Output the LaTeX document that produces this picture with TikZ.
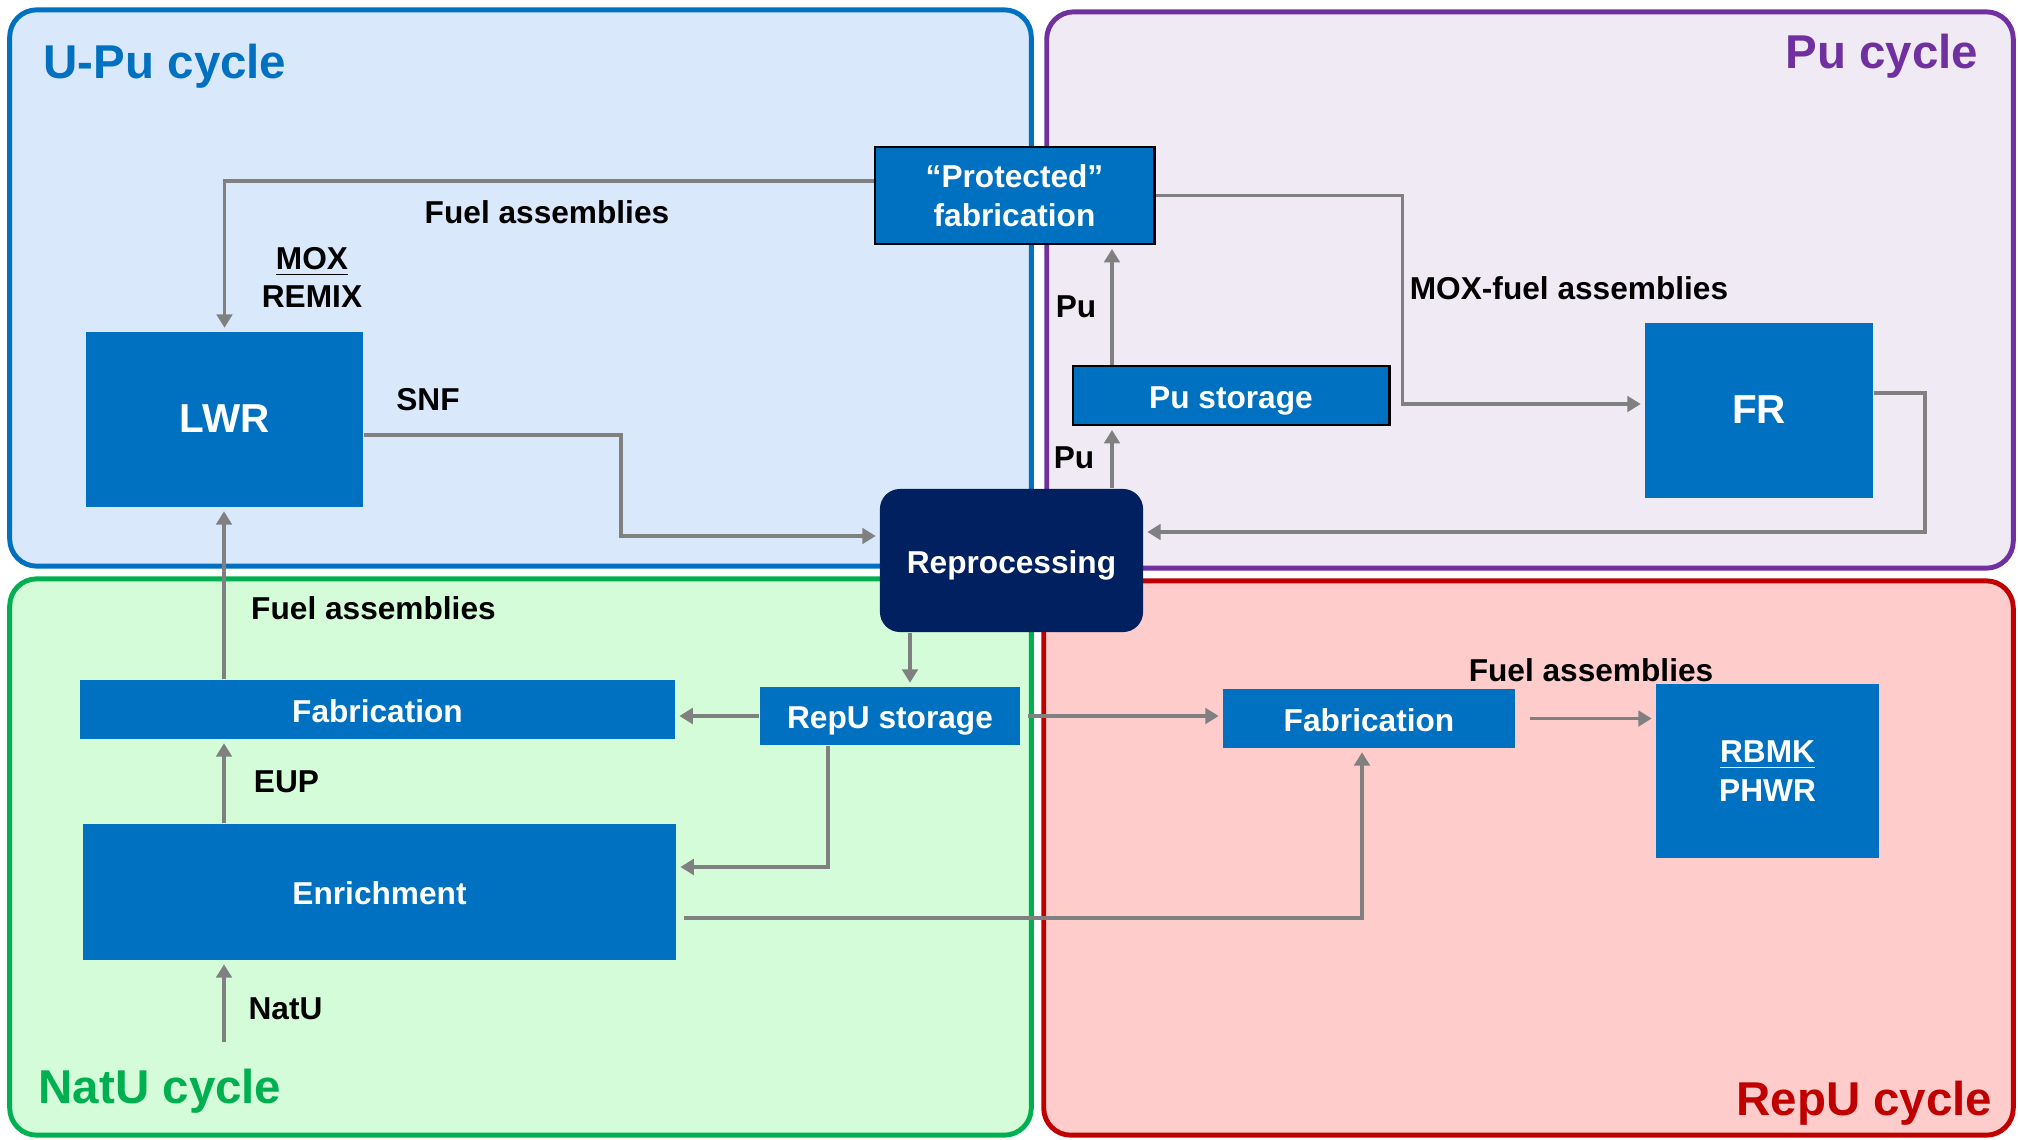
\documentclass[tikz,border=0pt]{standalone}
\usepackage{fontspec}
\setmainfont{Liberation Sans}
\usetikzlibrary{arrows.meta}
\definecolor{upufill}{RGB}{218,232,252}
\definecolor{upuline}{RGB}{0,112,192}
\definecolor{pufill}{RGB}{240,234,245}
\definecolor{puline}{RGB}{112,48,160}
\definecolor{natufill}{RGB}{212,252,216}
\definecolor{natuline}{RGB}{0,176,80}
\definecolor{repufill}{RGB}{255,204,204}
\definecolor{repuline}{RGB}{192,0,0}
\definecolor{unitblue}{RGB}{0,112,192}
\definecolor{reprofill}{RGB}{0,32,96}
\definecolor{flowgray}{RGB}{128,128,128}
\tikzstyle{region} = [draw, line width=1.4pt, rounded corners=0.27cm, inner sep=0pt]
\tikzstyle{title} = [font={\fontsize{13.5}{16}\selectfont\bfseries}, inner sep=0pt]
\tikzstyle{unit} = [fill=unitblue, text=white, inner sep=0pt, font={\fontsize{9}{11}\selectfont\bfseries}, text height=0.716em, text depth=0pt]
\tikzstyle{multi} = [align=center, text height=, text depth=]
\tikzstyle{framed} = [draw=black, line width=0.8pt]
\tikzstyle{big} = [font={\fontsize{11.5}{14}\selectfont\bfseries}]
\tikzstyle{lbl} = [font={\fontsize{9}{11}\selectfont\bfseries}, inner sep=0pt, text height=0.716em, text depth=0pt]
\tikzstyle{flow} = [draw=flowgray, line width=1pt, -{Triangle[width=4.4pt,length=3.8pt]}, shorten >=1pt]

\begin{document}
\begin{tikzpicture}[x=0.01cm,y=-0.01cm]
    \useasboundingbox (0,0) rectangle (2018,1139);
    % cycles
    \node[region,draw=upuline,fill=upufill,minimum width=10.21cm,minimum height=5.56cm](upu) at (520.5,288){};
    \node[region,draw=puline,fill=pufill,minimum width=9.66cm,minimum height=5.56cm](pu) at (1530,290){};
    \node[region,draw=natuline,fill=natufill,minimum width=10.21cm,minimum height=5.56cm](natu) at (520.5,857){};
    \node[region,draw=repuline,fill=repufill,minimum width=9.69cm,minimum height=5.54cm](repu) at (1528.5,858){};
    \node[title,text=upuline,anchor=base west](upuname) at (43,78){U-Pu cycle};
    \node[title,text=puline,anchor=base east](puname) at (1979,68){Pu cycle};
    \node[title,text=natuline,anchor=base west](natuname) at (38,1103){NatU cycle};
    \node[title,text=repuline,anchor=base east](repuname) at (1993,1115){RepU cycle};
    % facilities
    \node[unit,big,minimum width=2.77cm,minimum height=1.75cm](lwr) at (224.5,419.5){LWR};
    \node[unit,framed,multi,minimum width=2.79cm,minimum height=0.97cm](pfab) at (1014.5,195.5){“Protected”\\fabrication};
    \node[unit,framed,minimum width=3.16cm,minimum height=0.59cm](pust) at (1231,395.5){Pu storage};
    \node[unit,big,minimum width=2.28cm,minimum height=1.75cm](fr) at (1759,410.5){FR};
    \node[unit,fill=reprofill,rounded corners=0.2cm,minimum width=2.63cm,minimum height=1.43cm](repro) at (1011.5,560.5){Reprocessing};
    \node[unit,minimum width=5.95cm,minimum height=0.59cm](natfab) at (377.5,709.5){Fabrication};
    \node[unit,minimum width=2.6cm,minimum height=0.58cm](repust) at (890,716){RepU storage};
    \node[unit,minimum width=5.93cm,minimum height=1.36cm](enr) at (379.5,892){Enrichment};
    \node[unit,minimum width=2.92cm,minimum height=0.59cm](repfab) at (1369,718.5){Fabrication};
    \node[unit,multi,minimum width=2.23cm,minimum height=1.74cm](rbmk) at (1767.5,771){\underline{RBMK}\\PHWR};
    % flow labels
    \node[lbl](fa1) at (547,211){Fuel assemblies};
    \node[lbl,multi](mox) at (312,277.5){\underline{MOX}\\REMIX};
    \node[lbl](snf) at (428,398){SNF};
    \node[lbl](moxfa) at (1569,287){MOX-fuel assemblies};
    \node[lbl](pu1) at (1076,305){Pu};
    \node[lbl](pu2) at (1074,456){Pu};
    \node[lbl](fa2) at (373.5,607){Fuel assemblies};
    \node[lbl](eup) at (286.5,780){EUP};
    \node[lbl](natulbl) at (285.5,1007){NatU};
    \node[lbl](fa3) at (1591,669){Fuel assemblies};
    % flows
    \coordinate (puline) at (1112,0);
    \coordinate (repuline) at (910,0);
    \coordinate (lwrline) at (224,0);
    \coordinate (natuin) at (224,1042);
    \draw[flow]([yshift=1.45mm]pfab.west) -| (lwr.north);
    \draw[flow]([yshift=-1.55mm]lwr.east) -- ++(257,0) |- ([yshift=2.45mm]repro.west);
    \draw[flow](pfab.east) -- ++(247,0) |- ([yshift=0.65mm]fr.west);
    \draw[flow]([yshift=1.75mm]fr.east) -- ++(51,0) |- ([yshift=2.85mm]repro.east);
    \draw[flow](repro.north -| puline) -- (pust.south -| puline);
    \draw[flow](pust.north -| puline) -- (pfab.south -| puline);
    \draw[flow](repro.south -| repuline) -- (repust.north -| repuline);
    \draw[flow](repust.west) -- (repust.west -| natfab.east);
    \draw[flow]([xshift=-6.2mm]repust.south) |- ([yshift=2.5mm]enr.east);
    \draw[flow,shorten <=2pt]([yshift=-2.6mm]enr.east) -| ([xshift=-0.7mm]repfab.south);
    \draw[flow,shorten <=2pt](repust.east) -- (repust.east -| repfab.west);
    \draw[flow,shorten <=4pt](repfab.east) -- (repfab.east -| rbmk.west);
    \draw[flow](natuin) -- (enr.south -| natuin);
    \draw[flow](enr.north -| lwrline) -- (natfab.south -| lwrline);
    \draw[flow](natfab.north -| lwrline) -- (lwr.south -| lwrline);
  \end{tikzpicture}
\end{document}
